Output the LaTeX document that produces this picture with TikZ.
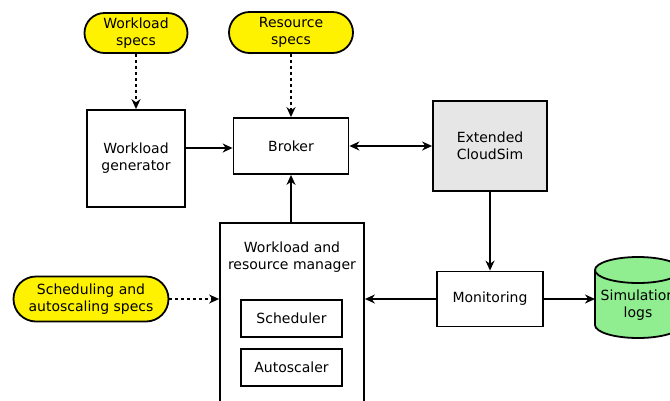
\documentclass[tikz,border=0pt]{standalone}
\usepackage{fontspec}
\setmainfont{DejaVu Sans}
\usetikzlibrary{arrows.meta,shapes.misc}
\definecolor{specyellow}{HTML}{FFF200}
\definecolor{simgray}{HTML}{E6E6E6}
\definecolor{loggreen}{HTML}{90EE90}
\tikzset{
  every node/.style={font=\fontsize{14}{17}\selectfont, align=center, inner sep=0pt},
  block/.style={draw, line width=1.8pt, rectangle},
  spec/.style={draw, line width=1.8pt, rounded rectangle, fill=specyellow},
  flow/.style={line width=1.8pt, -{Stealth[length=10pt,width=9pt]}},
  twoway/.style={line width=1.8pt, {Stealth[length=10pt,width=9pt]}-{Stealth[length=10pt,width=9pt]}},
  specflow/.style={flow, dash pattern=on 3pt off 3pt}
}
\begin{document}
\begin{tikzpicture}[x=1pt,y=1pt]
  \useasboundingbox (0,0) rectangle (670,-400);
  \clip (0,0) rectangle (670,-400);

  % input specifications
  \node[spec, minimum width=103pt, minimum height=40pt] (wspec) at (136,-33) {Workload\\specs};
  \node[spec, minimum width=124pt, minimum height=41pt] (rspec) at (291,-32.5) {Resource\\specs};
  \node[spec, minimum width=155pt, minimum height=45pt] (sspec) at (91,-299) {Scheduling and\\autoscaling specs};

  % main components
  \node[block, minimum width=98pt, minimum height=97pt] (gen) at (136,-158.5) {Workload\\generator};
  \node[block, minimum width=115pt, minimum height=56pt] (broker) at (291,-146) {Broker};
  \node[block, fill=simgray, minimum width=114pt, minimum height=90pt] (cloud) at (490,-146) {Extended\\CloudSim};
  \node[block, minimum width=106pt, minimum height=55pt] (mon) at (490,-299) {Monitoring};

  % workload and resource manager with its parts
  \node[block, minimum width=144pt, minimum height=197pt] (mgr) at (292,-321.5) {};
  \node (mgrlabel) at (292,-257) {Workload and\\resource manager};
  \node[block, minimum width=101pt, minimum height=37pt] (sched) at (291.5,-318.5) {Scheduler};
  \node[block, minimum width=101pt, minimum height=37pt] (auto) at (291.5,-367.5) {Autoscaler};

  % simulation logs store
  \fill[loggreen] (595,-270) arc[start angle=180, end angle=0, x radius=43, y radius=13]
        -- (681,-325) arc[start angle=0, end angle=-180, x radius=43, y radius=13] -- cycle;
  \draw[line width=1.8pt] (595,-270) arc[start angle=180, end angle=0, x radius=43, y radius=13]
        -- (681,-325) arc[start angle=0, end angle=-180, x radius=43, y radius=13] -- cycle;
  \draw[line width=1.8pt] (595,-270) arc[start angle=180, end angle=360, x radius=43, y radius=13];
  \node (logs) at (638,-305) {Simulation\\logs};
  \coordinate (logsin) at (595,-299);

  % connectors
  \draw[specflow] (wspec.south) -- (gen.north);
  \draw[specflow] (rspec.south) -- (broker.north);
  \draw[specflow] (sspec.east) -- (sspec.east -| mgr.west);
  \draw[flow] (gen.east |- 0,-148) -- (broker.west |- 0,-148);
  \draw[twoway] (broker.east) -- (cloud.west);
  \draw[flow] (mgr.north -| broker.south) -- (broker.south);
  \draw[flow] (cloud.south) -- (mon.north);
  \draw[flow] (mon.west) -- (mon.west -| mgr.east);
  \draw[flow] (mon.east) -- (logsin);
\end{tikzpicture}
\end{document}
